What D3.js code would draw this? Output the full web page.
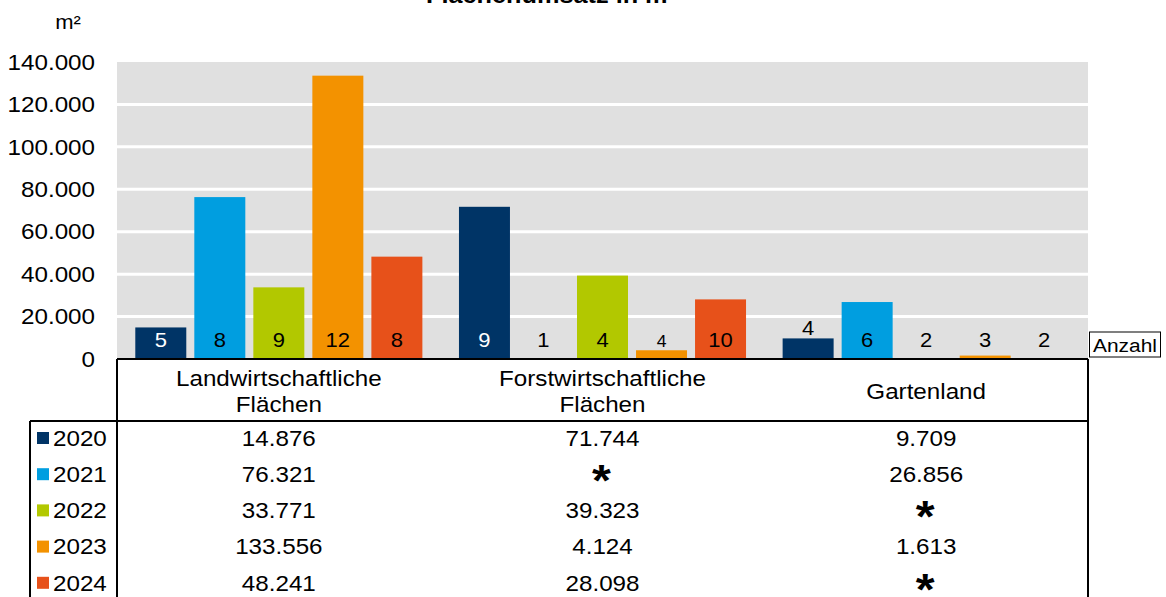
<!DOCTYPE html>
<html>
<head>
<meta charset="utf-8">
<script src="https://cdn.jsdelivr.net/npm/d3@7"></script>
<style>
  body { margin: 0; background: #fff; }
  svg { display: block; font-family: "Liberation Sans", Arial, sans-serif; }
</style>
</head>
<body>
<svg id="chart" width="1166" height="597"></svg>
<script>
// Flächenumsatz in m² nach Nutzungsart und Jahr
const categories = ["Landwirtschaftliche Flächen", "Forstwirtschaftliche Flächen", "Gartenland"];
const categoryLines = [["Landwirtschaftliche", "Flächen"], ["Forstwirtschaftliche", "Flächen"], ["Gartenland"]];
const years = ["2020", "2021", "2022", "2023", "2024"];
const yearColors = ["#003466", "#009ee0", "#b2c800", "#f39200", "#e7511a"];

// Fläche in m² (null = geheim, "*")
const area2020 = [14876, 71744, 9709];
const area2021 = [76321, null, 26856];
const area2022 = [33771, 39323, null];
const area2023 = [133556, 4124, 1613];
const area2024 = [48241, 28098, null];

// Anzahl der Kauffälle
const count2020 = [5, 9, 4];
const count2021 = [8, 1, 6];
const count2022 = [9, 4, 2];
const count2023 = [12, 4, 3];
const count2024 = [8, 10, 2];

const yTicks = [0, 20000, 40000, 60000, 80000, 100000, 120000, 140000];

const areas = [area2020, area2021, area2022, area2023, area2024];
const counts = [count2020, count2021, count2022, count2023, count2024];

const de = d3.formatLocale({ decimal: ",", thousands: ".", grouping: [3], currency: ["", " €"] });
const fmt = de.format(",");

const svg = d3.select("#chart");
const SX = 1.1; // Schrift leicht in die Breite gezogen wie im Original

// Text mit horizontaler Streckung
function txt(parent, x, y, s, size, anchor, opts = {}) {
    return parent.append("text")
        .attr("transform", `translate(${x},${y}) scale(${SX},1)`)
        .attr("text-anchor", anchor || "middle")
        .attr("dy", opts.dy == null ? "0.35em" : opts.dy)
        .attr("font-size", size)
        .attr("font-weight", opts.bold ? "bold" : null)
        .attr("fill", opts.fill || "#000")
        .text(s);
}

const plotL = 117, plotR = 1088, plotT = 62, plotB = 359;

const x0 = d3.scaleBand().domain(categories).range([plotL, plotR]).padding(0);
const x1 = d3.scaleBand().domain(years).range([0, x0.bandwidth()])
    .paddingInner(0.136).paddingOuter(0.31);
const y = d3.scaleLinear().domain([0, 140000]).range([plotB, plotT]);

// Titel (oben abgeschnitten)
txt(svg, 551, 3, "Flächenumsatz in m²", 23, "middle", { bold: true, dy: 0 });
txt(svg, 68, 22, "m²", 20, "middle");

// Hintergrund + Gitter
svg.append("rect")
    .attr("x", plotL).attr("y", y(140000))
    .attr("width", plotR - plotL).attr("height", y(0) - y(140000))
    .attr("fill", "#e0e0e0");

svg.append("g").selectAll("line")
    .data(yTicks.filter(t => t > 0 && t < 140000))
    .join("line")
    .attr("x1", plotL).attr("x2", plotR)
    .attr("y1", d => y(d)).attr("y2", d => y(d))
    .attr("stroke", "#fff").attr("stroke-width", 3);

// Achsenbeschriftung
const yAxisG = svg.append("g");
yTicks.forEach(t => txt(yAxisG, 95, y(t), fmt(t), 22, "end"));

// Balken
const barData = [];
categories.forEach((c, ci) => {
    years.forEach((yr, yi) => {
        barData.push({ cat: c, ci, year: yr, yi, value: areas[yi][ci], count: counts[yi][ci] });
    });
});

svg.append("g").selectAll("rect")
    .data(barData.filter(d => d.value != null))
    .join("rect")
    .attr("x", d => x0(d.cat) + x1(d.year))
    .attr("y", d => y(d.value))
    .attr("width", x1.bandwidth())
    .attr("height", d => y(0) - y(d.value))
    .attr("fill", d => yearColors[d.yi]);

// Anzahl-Beschriftungen: unten im Balken, bei kurzen Balken darüber
const lblG = svg.append("g");
barData.forEach(d => {
    const cx = x0(d.cat) + x1(d.year) + x1.bandwidth() / 2;
    const h = d.value == null ? 0 : y(0) - y(d.value);
    const inside = h > 26;
    const base = inside ? y(0) - 12 : Math.min(y(0) - 12, y(0) - h - 3);
    const small = h > 5 && h < 12;
    txt(lblG, cx, base, d.count, small ? 16 : 20, "middle", {
        dy: 0,
        fill: inside && d.yi === 0 ? "#fff" : "#000"
    });
});

// Anzahl-Kasten
svg.append("rect")
    .attr("x", plotR + 1.5).attr("y", 332).attr("width", 71).attr("height", 25)
    .attr("fill", "#fff").attr("stroke", "#000").attr("stroke-width", 1);
txt(svg, plotR + 37, 345, "Anzahl", 19, "middle");

// Datentabelle
const tbl = svg.append("g");
const rowTop = 421, rowH = 36.2;
const line = (ax, ay, bx, by) => tbl.append("line")
    .attr("x1", ax).attr("y1", ay).attr("x2", bx).attr("y2", by)
    .attr("stroke", "#000").attr("stroke-width", 2);

line(plotL, plotB, plotR, plotB);
line(plotL, plotB, plotL, 597);
line(plotR, plotB, plotR, 597);
line(30, rowTop, plotR, rowTop);
line(30, rowTop, 30, 597);

categoryLines.forEach((lines, ci) => {
    const cx = x0(categories[ci]) + x0.bandwidth() / 2;
    const mid = 391;
    lines.forEach((l, li) => {
        txt(tbl, cx, mid + (li - (lines.length - 1) / 2) * 26, l, 22, "middle");
    });
});

years.forEach((yr, yi) => {
    const cy = rowTop + 17 + yi * rowH;
    tbl.append("rect").attr("x", 37).attr("y", cy - 6).attr("width", 12).attr("height", 12)
        .attr("fill", yearColors[yi]);
    txt(tbl, 53, cy, yr, 22, "start");
    categories.forEach((c, ci) => {
        const cx = x0(c) + x0.bandwidth() / 2;
        const v = areas[yi][ci];
        if (v == null) {
            txt(tbl, cx - 1, cy + 0.5 * 44, "*", 44, "middle", { bold: true, dy: 0 });
        } else {
            txt(tbl, cx, cy, fmt(v), 22, "middle");
        }
    });
});
</script>
</body>
</html>
